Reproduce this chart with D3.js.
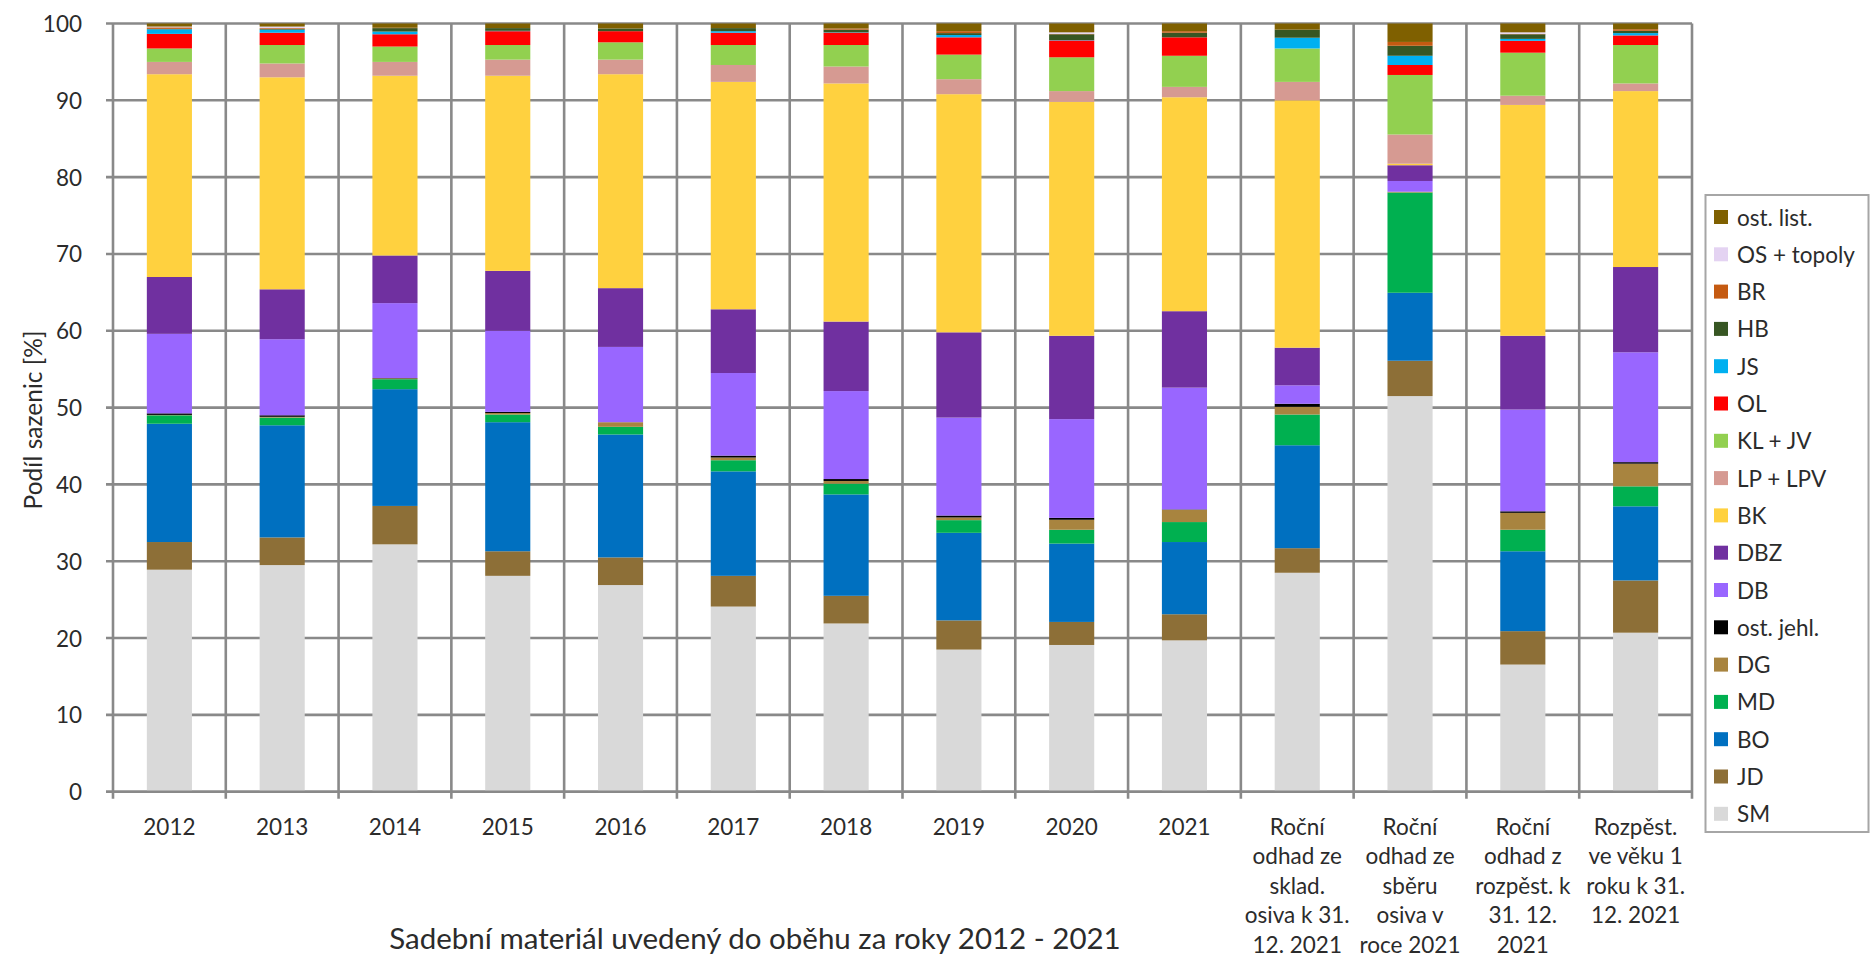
<!DOCTYPE html>
<html>
<head>
<meta charset="utf-8">
<script src="https://cdn.jsdelivr.net/npm/d3@7"></script>
<style>
  html, body { margin: 0; padding: 0; background: #fff; }
  svg { display: block; font-family: Lato, "Open Sans", sans-serif; }
</style>
</head>
<body>
<svg id="chart" width="1872" height="963"></svg>
<script>
// Category labels (line breaks as laid out under the axis)
const categories = [
  "2012", "2013", "2014", "2015", "2016", "2017", "2018", "2019", "2020", "2021",
  "Roční\nodhad ze\nsklad.\nosiva k 31.\n12. 2021",
  "Roční\nodhad ze\nsběru\nosiva v\nroce 2021",
  "Roční\nodhad z\nrozpěst. k\n31. 12.\n2021",
  "Rozpěst.\nve věku 1\nroku k 31.\n12. 2021"
];

// Share of seedlings [%] per species group, one value per category
const SM       = [28.9, 29.5, 32.2, 28.1, 26.9, 24.1, 21.9, 18.5, 19.1, 19.7, 28.5, 51.5, 16.55, 20.7];
const JD       = [3.6, 3.6, 5.0, 3.2, 3.6, 4.0, 3.6, 3.8, 3.0, 3.4, 3.2, 4.6, 4.35, 6.8];
const BO       = [15.4, 14.6, 15.2, 16.8, 16.0, 13.6, 13.2, 11.4, 10.2, 9.4, 13.4, 8.85, 10.4, 9.65];
const MD       = [1.1, 1.0, 1.3, 1.0, 1.0, 1.45, 1.4, 1.65, 1.8, 2.6, 4.0, 13.05, 2.8, 2.6];
const DG       = [0.05, 0.1, 0.1, 0.2, 0.6, 0.35, 0.35, 0.35, 1.3, 1.6, 1.0, 0.1, 2.2, 2.95];
const OST_JEHL = [0.2, 0.2, 0.05, 0.15, 0.0, 0.25, 0.25, 0.25, 0.25, 0.05, 0.4, 0.0, 0.2, 0.2];
const DB       = [10.35, 9.9, 9.75, 10.55, 9.8, 10.75, 11.45, 12.75, 12.85, 15.85, 2.4, 1.4, 13.25, 14.3];
const DBZ      = [7.4, 6.5, 6.2, 7.8, 7.65, 8.3, 9.05, 11.1, 10.85, 9.95, 4.9, 2.05, 9.6, 11.1];
const BK       = [26.4, 27.6, 23.4, 25.4, 27.85, 29.6, 31.0, 31.0, 30.45, 27.85, 32.2, 0.2, 30.05, 22.9];
const LP_LPV   = [1.6, 1.8, 1.8, 2.1, 1.9, 2.2, 2.2, 1.95, 1.4, 1.35, 2.4, 3.8, 1.2, 1.0];
const KL_JV    = [1.75, 2.4, 2.0, 1.9, 2.25, 2.6, 2.8, 3.2, 4.4, 4.05, 4.35, 7.75, 5.6, 5.0];
const OL       = [1.9, 1.6, 1.6, 1.8, 1.45, 1.6, 1.6, 2.25, 2.2, 2.4, 0.0, 1.3, 1.55, 1.25];
const JS       = [0.6, 0.4, 0.35, 0.05, 0.0, 0.2, 0.05, 0.3, 0.05, 0.0, 1.4, 1.2, 0.25, 0.3];
const HB       = [0.05, 0.1, 0.45, 0.35, 0.35, 0.4, 0.35, 0.25, 0.75, 0.6, 1.05, 1.3, 0.6, 0.3];
const BR       = [0.2, 0.1, 0.05, 0.0, 0.0, 0.0, 0.15, 0.25, 0.05, 0.2, 0.0, 0.5, 0.05, 0.2];
const OS_TOP   = [0.1, 0.2, 0.0, 0.0, 0.0, 0.0, 0.0, 0.0, 0.2, 0.0, 0.0, 0.0, 0.2, 0.0];
const OST_LIST = [0.4, 0.4, 0.55, 0.6, 0.65, 0.6, 0.65, 1.0, 1.15, 1.0, 0.8, 2.4, 1.15, 0.75];

// Stack order, bottom to top
const seriesNames  = ["SM", "JD", "BO", "MD", "DG", "ost. jehl.", "DB", "DBZ", "BK", "LP + LPV", "KL + JV", "OL", "JS", "HB", "BR", "OS + topoly", "ost. list."];
const seriesValues = [SM, JD, BO, MD, DG, OST_JEHL, DB, DBZ, BK, LP_LPV, KL_JV, OL, JS, HB, BR, OS_TOP, OST_LIST];
const seriesColors = ["#d9d9d9", "#8d6f37", "#0070c0", "#00b050", "#a8843f", "#000000", "#9966ff", "#7030a0", "#ffd13f", "#d69a92", "#92d050", "#ff0000", "#00b0f0", "#375623", "#c55a11", "#e4d3f2", "#7f6000"];

const yTicks = [0, 10, 20, 30, 40, 50, 60, 70, 80, 90, 100];
const yTitle = "Podíl sazenic [%]";
const xTitle = "Sadební materiál uvedený do oběhu za roky 2012 - 2021";

const svg = d3.select("#chart");
const plot = { left: 113, right: 1692, top: 23.5, bottom: 791.7 };
const gridColor = "#898989";
const textColor = "#2b2b2b";
const fontSize = 22.5;

const x = d3.scaleBand()
  .domain(d3.range(categories.length))
  .range([plot.left, plot.right])
  .paddingInner(0.6)
  .paddingOuter(0.3);
const y = d3.scaleLinear().domain([0, 100]).range([plot.bottom, plot.top]);

// Table rows for d3.stack
const rows = categories.map((c, i) => {
  const r = { idx: i };
  seriesNames.forEach((n, k) => { r[n] = seriesValues[k][i]; });
  return r;
});
const stacked = d3.stack().keys(seriesNames)(rows);

// Category boundaries for the vertical gridlines
const step = x.step();
const boundaries = d3.range(categories.length + 1).map(i => x(0) - x.paddingOuter() * step + i * step);

// Horizontal gridlines
svg.append("g").selectAll("line").data(yTicks).join("line")
  .attr("x1", plot.left - 7).attr("x2", plot.right)
  .attr("y1", d => y(d)).attr("y2", d => y(d))
  .attr("stroke", gridColor).attr("stroke-width", 2.6);

// Vertical gridlines (with tick marks below the axis)
svg.append("g").selectAll("line").data(boundaries).join("line")
  .attr("x1", d => d).attr("x2", d => d)
  .attr("y1", plot.top).attr("y2", plot.bottom + 7)
  .attr("stroke", gridColor).attr("stroke-width", 2.6);

// Stacked bars
svg.append("g").selectAll("g").data(stacked).join("g")
  .attr("fill", (d, k) => seriesColors[k])
  .selectAll("rect").data(d => d).join("rect")
  .attr("x", d => x(d.data.idx))
  .attr("width", x.bandwidth())
  .attr("y", d => y(d[1]))
  .attr("height", d => Math.max(0, y(d[0]) - y(d[1])));

// Baseline redrawn over the bars
svg.append("line")
  .attr("x1", plot.left - 7).attr("x2", plot.right)
  .attr("y1", y(0)).attr("y2", y(0))
  .attr("stroke", gridColor).attr("stroke-width", 2.6);

// Y tick labels
svg.append("g").selectAll("text").data(yTicks).join("text")
  .attr("x", 82).attr("y", d => y(d))
  .attr("text-anchor", "end").attr("dominant-baseline", "central")
  .attr("font-size", fontSize).attr("fill", textColor)
  .text(d => d);

// X category labels (multi-line)
const lineGap = 29.5;
svg.append("g").selectAll("text").data(categories).join("text")
  .attr("text-anchor", "middle")
  .attr("font-size", fontSize).attr("fill", textColor)
  .each(function(c, i) {
    const t = d3.select(this);
    c.split("\n").forEach((line, j) => {
      t.append("tspan")
        .attr("x", x(i) + x.bandwidth() / 2)
        .attr("y", 826 + j * lineGap)
        .attr("dominant-baseline", "central")
        .text(line);
    });
  });

// Axis titles
svg.append("text")
  .attr("transform", "translate(32,420) rotate(-90)")
  .attr("text-anchor", "middle").attr("dominant-baseline", "central")
  .attr("font-size", 24.5).attr("fill", textColor)
  .text(yTitle);

svg.append("text")
  .attr("x", 755).attr("y", 937)
  .attr("text-anchor", "middle").attr("dominant-baseline", "central")
  .attr("font-size", 29.5).attr("fill", textColor)
  .text(xTitle);

// Legend (top entry = top of stack)
const legend = svg.append("g");
legend.append("rect")
  .attr("x", 1705.5).attr("y", 195).attr("width", 163).attr("height", 637)
  .attr("fill", "#fff").attr("stroke", "#a6a6a6").attr("stroke-width", 2);
const legendOrder = d3.range(seriesNames.length).reverse();
const li = legend.selectAll("g.item").data(legendOrder).join("g")
  .attr("transform", (k, j) => `translate(1714,${217 + j * 37.3})`);
li.append("rect").attr("x", 0).attr("y", -7).attr("width", 14).attr("height", 14)
  .attr("fill", k => seriesColors[k]);
li.append("text").attr("x", 23).attr("y", 0)
  .attr("dominant-baseline", "central")
  .attr("font-size", fontSize).attr("fill", textColor)
  .text(k => seriesNames[k]);
</script>
</body>
</html>
